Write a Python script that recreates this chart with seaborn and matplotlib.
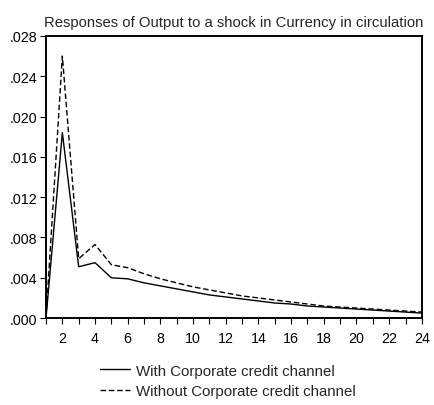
import matplotlib
matplotlib.use("Agg")
import matplotlib.pyplot as plt
import seaborn as sns
import pandas as pd
from matplotlib.ticker import FuncFormatter, MultipleLocator

periods = list(range(1, 25))
with_channel = [0.0, 0.0184, 0.0051, 0.0055, 0.0040, 0.0039, 0.0035, 0.0032, 0.0029,
                0.0026, 0.0023, 0.0021, 0.0019, 0.0017, 0.0015, 0.0014, 0.0012, 0.0011,
                0.0010, 0.0009, 0.0008, 0.0007, 0.0006, 0.0005]
without_channel = [0.0, 0.0260, 0.0059, 0.0073, 0.0053, 0.0050, 0.0044, 0.0039, 0.0035,
                   0.0031, 0.0028, 0.0025, 0.0022, 0.0020, 0.0018, 0.0016, 0.0014, 0.0012,
                   0.0011, 0.0010, 0.0009, 0.0008, 0.0007, 0.0006]
labels = ["With Corporate credit channel", "Without Corporate credit channel"]

df = pd.DataFrame({
    "period": periods * 2,
    "value": with_channel + without_channel,
    "series": [labels[0]] * 24 + [labels[1]] * 24,
})

sns.set_style("white")
plt.rcParams["font.family"] = ["Liberation Sans", "DejaVu Sans"]

fig = plt.figure(figsize=(4.34, 4.06), dpi=100)
ax = fig.add_axes([0.106, 0.214, 0.866, 0.695])

sns.lineplot(data=df, x="period", y="value", style="series", color="black",
             dashes={labels[0]: "", labels[1]: (4, 2)}, linewidth=1.0, ax=ax, legend=False)

ax.set_xlim(1, 24)
ax.set_ylim(0, 0.028)
ax.xaxis.set_major_locator(MultipleLocator(2))
ax.xaxis.set_minor_locator(MultipleLocator(1))
ax.yaxis.set_major_locator(MultipleLocator(0.004))
ax.yaxis.set_major_formatter(FuncFormatter(lambda v, p: f"{v:.3f}".lstrip("0")))
ax.tick_params(axis="both", which="both", direction="out", labelsize=10.3, colors="black")
ax.tick_params(axis="both", which="major", length=4, width=0.8, bottom=True, left=True)
ax.tick_params(axis="x", which="minor", length=4, width=0.8, bottom=True)
ax.tick_params(axis="x", which="major", pad=5)
ax.tick_params(axis="y", which="major", pad=2)
ax.set_xlabel("")
ax.set_ylabel("")
for s in ax.spines.values():
    s.set_color("black")
    s.set_linewidth(1.4)

ax.set_title("Responses of Output to a shock in Currency in circulation", fontsize=10.7, pad=7)

h1, = ax.plot([], [], color="black", linewidth=1.0, linestyle="-")
h2, = ax.plot([], [], color="black", linewidth=1.0, linestyle=(0, (4, 2)))
fig.legend([h1, h2], labels, loc="upper center", bbox_to_anchor=(0.526, 0.124), frameon=False,
           fontsize=10.8, handlelength=2.0, handletextpad=0.4, labelspacing=0.45,
           borderpad=0.1)

fig.savefig("out.png", dpi=100)
